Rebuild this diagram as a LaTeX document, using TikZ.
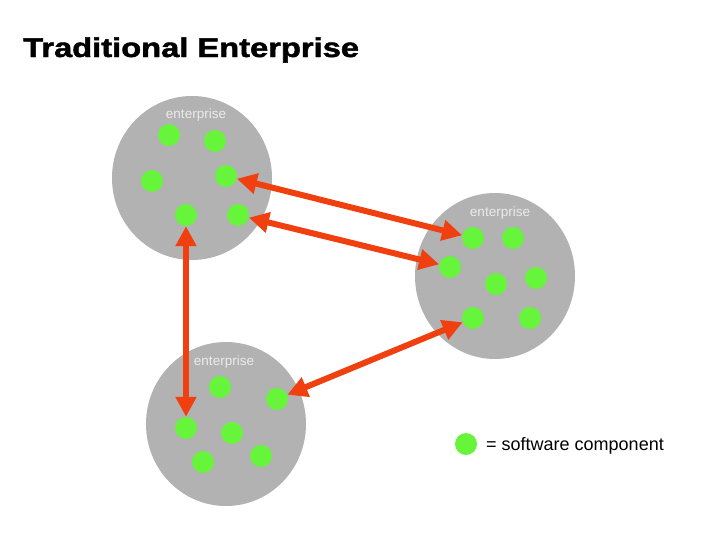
\documentclass[tikz,border=0pt]{standalone}
\usepackage{fontspec}
\setmainfont{Liberation Sans}
\newfontfamily\titlefont[FakeBold=1.6]{Liberation Sans Bold}
\usetikzlibrary{arrows.meta}
\definecolor{entgray}{RGB}{178,178,178}
\definecolor{compgreen}{RGB}{102,245,58}
\definecolor{linkred}{RGB}{240,64,16}
\definecolor{labelwhite}{RGB}{235,235,235}
\begin{document}
\begin{tikzpicture}[x=1pt,y=-1pt,
  enterprise/.style={fill=entgray,draw=none},
  comp/.style={circle,fill=compgreen,draw=none,minimum size=22pt,inner sep=0pt},
  entlabel/.style={text=labelwhite,font=\fontsize{13.5}{15}\selectfont,inner sep=0pt,anchor=base},
  link/.style={draw=linkred,line width=6pt,{Triangle[width=20pt,length=20pt]}-{Triangle[width=20pt,length=20pt]},fill=linkred}]
\useasboundingbox (0,0) rectangle (728,546);
\fill[white] (0,0) rectangle (728,546);
% title
\node[anchor=base west,inner sep=0pt] (title) at (23,57) {\scalebox{1.21}[1]{\titlefont\fontsize{27}{30}\selectfont Traditional Enterprise}};
% enterprises
\fill[enterprise] (192,178) ellipse [x radius=80, y radius=82];
\fill[enterprise] (495,276) ellipse [x radius=80, y radius=83];
\fill[enterprise] (226,424) ellipse [x radius=80, y radius=82];
\node[entlabel] (l1) at (196,118) {enterprise};
\node[entlabel] (l2) at (500,216) {enterprise};
\node[entlabel] (l3) at (224,365) {enterprise};
% components, top-left
\node[comp] (a1) at (169,135) {};
\node[comp] (a2) at (215,141) {};
\node[comp] (a3) at (152,181) {};
\node[comp] (a4) at (226,176) {};
\node[comp] (a5) at (186,215) {};
\node[comp] (a6) at (238,215) {};
% right
\node[comp] (b1) at (473,238) {};
\node[comp] (b2) at (513,238) {};
\node[comp] (b3) at (450,267) {};
\node[comp] (b4) at (496,284) {};
\node[comp] (b5) at (536,278) {};
\node[comp] (b6) at (473,318) {};
\node[comp] (b7) at (530,318) {};
% bottom
\node[comp] (c1) at (220,387) {};
\node[comp] (c2) at (277,399) {};
\node[comp] (c3) at (186,428) {};
\node[comp] (c4) at (232,433) {};
\node[comp] (c5) at (203,462) {};
\node[comp] (c6) at (261,456) {};
% links
\draw[link] (a4) -- (b1);
\draw[link] (a6) -- (b3);
\draw[link] (a5) -- (c3);
\draw[link] (c2) -- (b6);
% legend
\node[comp] (legdot) at (466,444) {};
\node[anchor=base west,inner sep=0pt,font=\fontsize{18}{21}\selectfont] (legtext) at (486,450) {= software component};
\end{tikzpicture}
\end{document}
